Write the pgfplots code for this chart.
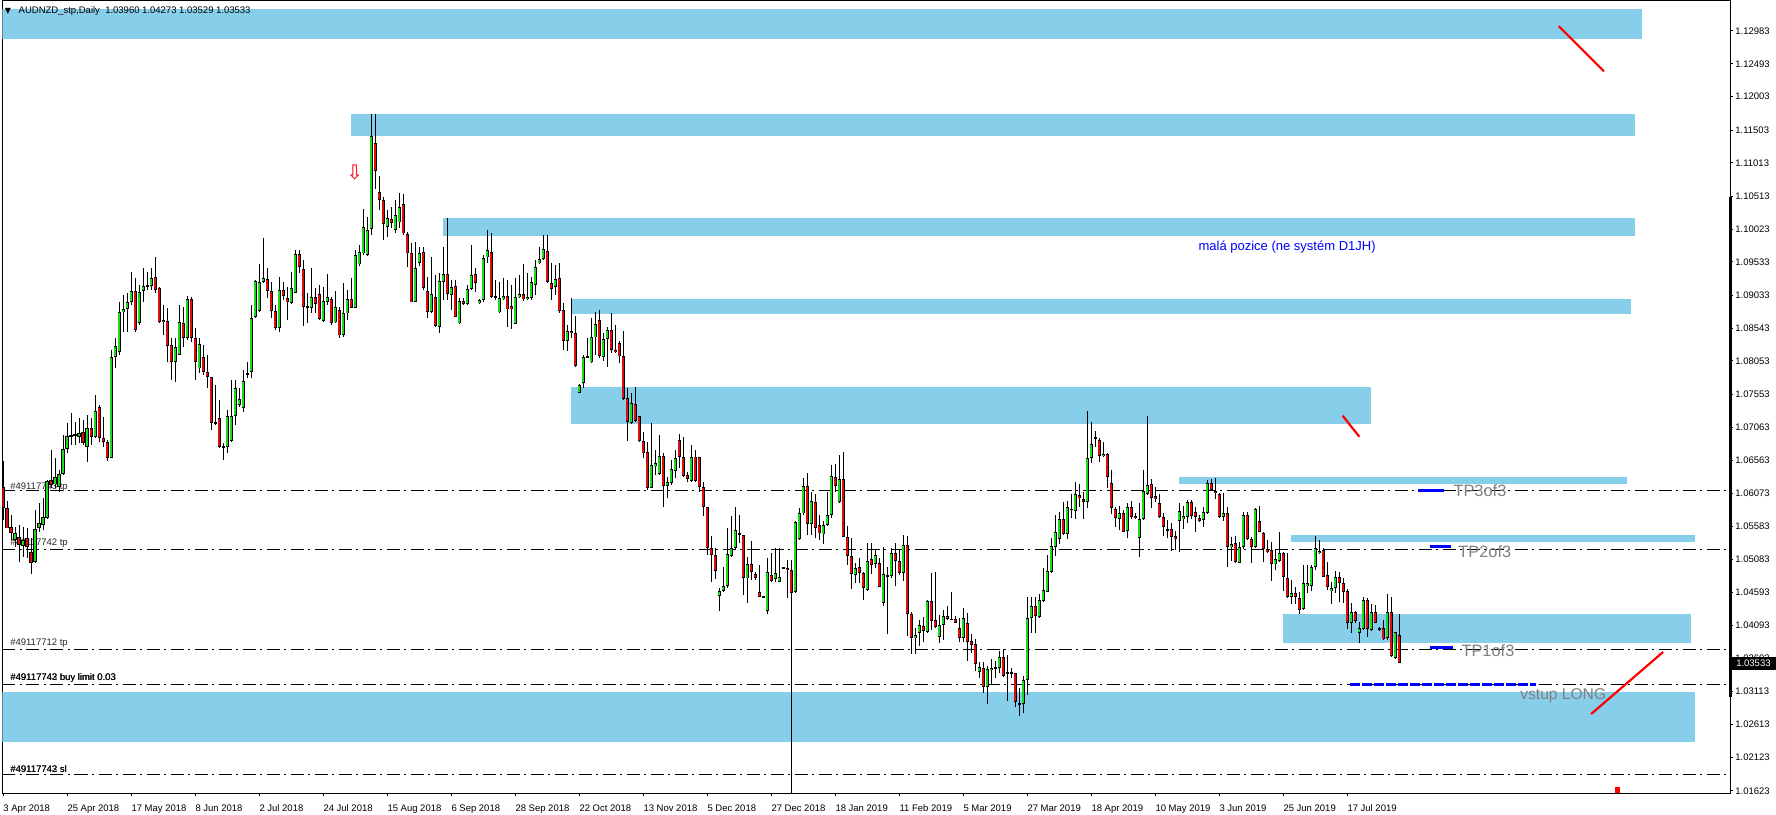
\documentclass[border=0pt]{standalone}
\usepackage{pgfplots}
\pgfplotsset{compat=1.18}
\usepackage{pgfplotstable}
\usepackage{fontspec}
\setmainfont{Liberation Sans}
\newfontfamily\dejavu{DejaVu Sans}
\definecolor{zone}{RGB}{135,206,235}
\definecolor{bull}{RGB}{30,215,30}
\definecolor{bear}{RGB}{215,15,15}
\definecolor{tpgray}{RGB}{128,128,128}
\definecolor{mtblue}{RGB}{0,0,255}
\newcommand\mt{\fontsize{4.75}{5.5}\selectfont}

\pgfplotstableread{
i o h l c
0 1.06161 1.06555 1.05673 1.05847
1 1.05847 1.05957 1.05548 1.05548
2 1.05568 1.05748 1.05374 1.05474
3 1.05374 1.05573 1.05274 1.05474
4 1.05424 1.05598 1.05050 1.05299
5 1.05289 1.05573 1.05125 1.05374
6 1.05399 1.05548 1.05100 1.05274
7 1.05200 1.05399 1.04861 1.05025
8 1.05040 1.05823 1.05025 1.05539
9 1.05548 1.05922 1.05499 1.05623
10 1.05598 1.05997 1.05524 1.05713
11 1.05698 1.06271 1.05688 1.06256
12 1.06271 1.06719 1.06146 1.06196
13 1.06206 1.06595 1.06146 1.06321
14 1.06171 1.06420 1.06097 1.06356
15 1.06356 1.06944 1.06346 1.06729
16 1.06729 1.07118 1.06670 1.06929
17 1.06929 1.07268 1.06794 1.06934
18 1.06929 1.07143 1.06794 1.06954
19 1.06919 1.07193 1.06819 1.06979
20 1.06994 1.07168 1.06794 1.06819
21 1.06769 1.07243 1.06545 1.07043
22 1.07043 1.07193 1.06794 1.06919
23 1.06919 1.07542 1.06894 1.07302
24 1.07357 1.07392 1.06844 1.06894
25 1.06894 1.07218 1.06769 1.06844
26 1.06844 1.06869 1.06555 1.06605
27 1.06605 1.08214 1.06595 1.08115
28 1.08115 1.08389 1.07940 1.08279
29 1.08179 1.08927 1.08140 1.08787
30 1.08787 1.09037 1.08488 1.08822
31 1.08822 1.09061 1.08488 1.08927
32 1.08937 1.09385 1.08887 1.09096
33 1.09096 1.09286 1.08488 1.08513
34 1.08613 1.09186 1.08588 1.09086
35 1.09096 1.09445 1.08937 1.09176
36 1.09176 1.09385 1.09111 1.09181
37 1.09176 1.09435 1.09111 1.09286
38 1.09301 1.09600 1.09061 1.09106
39 1.09136 1.09161 1.08613 1.08638
40 1.08663 1.08887 1.08439 1.08628
41 1.08653 1.08837 1.08040 1.08279
42 1.08289 1.08389 1.07766 1.08030
43 1.08030 1.08389 1.07741 1.08264
44 1.08140 1.08887 1.08140 1.08638
45 1.08613 1.08862 1.08264 1.08389
46 1.08389 1.09022 1.08364 1.08977
47 1.08977 1.09012 1.08339 1.08389
48 1.08389 1.08538 1.07766 1.08030
49 1.07940 1.08389 1.07866 1.08304
50 1.08105 1.08289 1.07841 1.07881
51 1.07890 1.08140 1.07641 1.07816
52 1.07816 1.07816 1.07018 1.07118
53 1.07128 1.07691 1.07093 1.07123
54 1.07203 1.07467 1.06754 1.06769
55 1.06779 1.06819 1.06570 1.06764
56 1.06759 1.07317 1.06670 1.07233
57 1.06854 1.07766 1.06844 1.07233
58 1.07228 1.07766 1.07093 1.07641
59 1.07392 1.07641 1.07367 1.07482
60 1.07342 1.07915 1.07293 1.07756
61 1.07841 1.08040 1.07791 1.07866
62 1.07881 1.08887 1.07791 1.08688
63 1.08703 1.09261 1.08688 1.09251
64 1.08797 1.09495 1.08777 1.09226
65 1.09236 1.09894 1.09211 1.09286
66 1.09276 1.09435 1.08987 1.09096
67 1.09096 1.09236 1.08698 1.08797
68 1.08797 1.08887 1.08513 1.08538
69 1.08538 1.09311 1.08478 1.09106
70 1.09111 1.09236 1.08962 1.09022
71 1.08986 1.09161 1.08662 1.08926
72 1.08911 1.09385 1.08901 1.09136
73 1.09071 1.09709 1.09061 1.09644
74 1.09644 1.09709 1.09370 1.09450
75 1.09420 1.09559 1.08573 1.08862
76 1.08872 1.09061 1.08612 1.08852
77 1.08837 1.09435 1.08762 1.09001
78 1.09001 1.09136 1.08762 1.08896
79 1.09051 1.09185 1.08662 1.08682
80 1.08647 1.09161 1.08637 1.08946
81 1.08926 1.09350 1.08886 1.09011
82 1.08971 1.09011 1.08587 1.08622
83 1.08627 1.09096 1.08612 1.08862
84 1.08812 1.08862 1.08388 1.08433
85 1.08433 1.09220 1.08413 1.08762
86 1.08762 1.09111 1.08662 1.08971
87 1.08971 1.09285 1.08837 1.08837
88 1.08837 1.09709 1.08837 1.09634
89 1.09494 1.09783 1.09469 1.09674
90 1.09659 1.10322 1.09634 1.10052
91 1.09634 1.10207 1.09624 1.10008
92 1.10018 1.11742 1.09933 1.11413
93 1.11303 1.11742 1.10616 1.10895
94 1.10571 1.10815 1.10307 1.10456
95 1.10456 1.10506 1.09858 1.10097
96 1.10047 1.10307 1.09898 1.10182
97 1.10172 1.10356 1.10033 1.10107
98 1.10008 1.10456 1.09958 1.10227
99 1.10122 1.10556 1.10033 1.10346
100 1.10391 1.10546 1.09933 1.09958
101 1.09948 1.09983 1.09459 1.09659
102 1.09659 1.09808 1.08926 1.08926
103 1.08926 1.09833 1.08926 1.09435
104 1.09519 1.09758 1.09469 1.09659
105 1.09674 1.09758 1.09111 1.09136
106 1.09096 1.09310 1.08697 1.08787
107 1.08777 1.09599 1.08762 1.09046
108 1.09011 1.09335 1.08553 1.08578
109 1.08563 1.09360 1.08463 1.09245
110 1.09235 1.09758 1.08961 1.09350
111 1.09350 1.10182 1.08961 1.09051
112 1.09036 1.09260 1.08812 1.09161
113 1.09170 1.09260 1.08702 1.08712
114 1.08612 1.08986 1.08602 1.08946
115 1.08951 1.08986 1.08886 1.08901
116 1.08901 1.09185 1.08881 1.09121
117 1.09121 1.09783 1.09111 1.09335
118 1.09350 1.09435 1.09086 1.09220
119 1.08911 1.08971 1.08901 1.08961
120 1.08961 1.09634 1.08936 1.09584
121 1.09599 1.10008 1.09509 1.09709
122 1.09674 1.09958 1.08986 1.09011
123 1.09011 1.09260 1.08961 1.09006
124 1.08777 1.09235 1.08762 1.08996
125 1.08976 1.09285 1.08961 1.09021
126 1.09021 1.09260 1.08563 1.08822
127 1.08872 1.09185 1.08523 1.08822
128 1.08602 1.09285 1.08602 1.09001
129 1.09001 1.09335 1.08986 1.09046
130 1.09046 1.09499 1.08946 1.08971
131 1.08971 1.09360 1.08961 1.09001
132 1.08986 1.09310 1.08961 1.09225
133 1.09185 1.09559 1.09036 1.09459
134 1.09509 1.09758 1.09499 1.09569
135 1.09569 1.09933 1.09559 1.09719
136 1.09694 1.09933 1.09220 1.09225
137 1.09220 1.09509 1.08961 1.09121
138 1.09151 1.09484 1.09036 1.09270
139 1.09285 1.09509 1.08762 1.08802
140 1.08812 1.08911 1.08214 1.08353
141 1.08353 1.08588 1.08199 1.08498
142 1.08498 1.08986 1.08398 1.08463
143 1.08463 1.08727 1.07965 1.07980
144 1.07576 1.07701 1.07566 1.07691
145 1.07725 1.08139 1.07641 1.08104
146 1.08099 1.08398 1.08089 1.08124
147 1.08029 1.08697 1.08024 1.08403
148 1.08403 1.08787 1.08139 1.08597
149 1.08662 1.08812 1.08089 1.08129
150 1.08114 1.08463 1.08054 1.08373
151 1.08373 1.08563 1.07965 1.08513
152 1.08513 1.08762 1.08164 1.08214
153 1.08214 1.08588 1.08164 1.08179
154 1.08313 1.08348 1.08014 1.08119
155 1.08124 1.08498 1.07466 1.07481
156 1.07491 1.07641 1.06858 1.07142
157 1.07128 1.07566 1.07108 1.07417
158 1.07402 1.07656 1.07142 1.07152
159 1.07227 1.07227 1.06843 1.06853
160 1.06853 1.06993 1.06594 1.06669
161 1.06684 1.06843 1.06121 1.06146
162 1.06146 1.07118 1.06146 1.06495
163 1.06485 1.06719 1.06345 1.06520
164 1.06355 1.06943 1.06345 1.06634
165 1.06624 1.06669 1.05872 1.06186
166 1.06186 1.06320 1.05996 1.06236
167 1.06221 1.06569 1.06196 1.06435
168 1.06410 1.06719 1.06295 1.06594
169 1.06868 1.06953 1.06445 1.06619
170 1.06609 1.06908 1.06320 1.06335
171 1.06340 1.06395 1.06246 1.06280
172 1.06265 1.06794 1.06246 1.06619
173 1.06624 1.06719 1.06246 1.06260
174 1.06609 1.06619 1.06096 1.06161
175 1.06171 1.06246 1.05737 1.05872
176 1.05862 1.05872 1.05149 1.05259
177 1.05259 1.05433 1.04741 1.05149
178 1.05144 1.05249 1.04800 1.04915
179 1.04541 1.04661 1.04312 1.04611
180 1.04611 1.04975 1.04601 1.04686
181 1.04686 1.05548 1.04651 1.05159
182 1.05134 1.05737 1.05124 1.05249
183 1.05249 1.05867 1.05239 1.05518
184 1.05478 1.05747 1.05324 1.05458
185 1.05448 1.05448 1.04551 1.04800
186 1.04800 1.05124 1.04427 1.05010
187 1.05010 1.05359 1.04776 1.04900
188 1.04860 1.04900 1.04776 1.04800
189 1.04591 1.05000 1.04521 1.04526
190 1.04526 1.04536 1.04521 1.04526
191 1.04312 1.05099 1.04262 1.04890
192 1.04850 1.05174 1.04751 1.04766
193 1.04790 1.05249 1.04751 1.04875
194 1.04751 1.05249 1.04741 1.04825
195 1.04960 1.04975 1.04940 1.04960
196 1.04960 1.05075 1.04501 1.04930
197 1.04920 1.05075 1.01000 1.04586
198 1.04601 1.05658 1.04576 1.05648
199 1.05383 1.05847 1.05373 1.05772
200 1.05772 1.06305 1.05747 1.06181
201 1.06181 1.06370 1.05448 1.05608
202 1.05608 1.06096 1.05448 1.05957
203 1.05942 1.06061 1.05398 1.05558
204 1.05598 1.05747 1.05373 1.05473
205 1.05458 1.05658 1.05309 1.05598
206 1.05598 1.06096 1.05588 1.05747
207 1.05747 1.06495 1.05697 1.06330
208 1.06320 1.06505 1.06096 1.06186
209 1.05947 1.06644 1.05922 1.06285
210 1.06285 1.06694 1.05423 1.05423
211 1.05424 1.05584 1.05001 1.05140
212 1.05140 1.05399 1.04642 1.04861
213 1.04851 1.05026 1.04737 1.04951
214 1.04976 1.05100 1.04727 1.04876
215 1.04876 1.04901 1.04477 1.04662
216 1.04627 1.05325 1.04612 1.05060
217 1.05085 1.05325 1.04861 1.05001
218 1.05011 1.05240 1.04951 1.05150
219 1.05026 1.05100 1.04667 1.04677
220 1.04438 1.05275 1.04393 1.04861
221 1.04841 1.04976 1.03964 1.04846
222 1.04841 1.05260 1.04801 1.05175
223 1.05175 1.05325 1.04692 1.05060
224 1.05060 1.05225 1.04851 1.04876
225 1.04876 1.05449 1.04761 1.05300
226 1.05300 1.05439 1.03944 1.04268
227 1.04268 1.04303 1.03665 1.03904
228 1.03904 1.04054 1.03665 1.03954
229 1.03989 1.04178 1.03795 1.04104
230 1.04089 1.04228 1.03855 1.04014
231 1.04004 1.04477 1.03979 1.04463
232 1.04463 1.04886 1.04029 1.04164
233 1.04178 1.04901 1.04064 1.04079
234 1.03929 1.04253 1.03830 1.04104
235 1.04104 1.04328 1.03879 1.04243
236 1.04243 1.04393 1.04178 1.04193
237 1.04188 1.04602 1.04178 1.04188
238 1.04193 1.04238 1.04129 1.04139
239 1.04064 1.04203 1.03855 1.03904
240 1.03904 1.04353 1.03855 1.04203
241 1.04129 1.04278 1.03566 1.03855
242 1.03865 1.03964 1.03680 1.03805
243 1.03815 1.03894 1.03416 1.03516
244 1.03406 1.03546 1.03306 1.03476
245 1.03466 1.03556 1.03092 1.03182
246 1.03182 1.03496 1.02923 1.03446
247 1.03436 1.03595 1.03207 1.03466
248 1.03456 1.03566 1.03306 1.03481
249 1.03456 1.03715 1.03381 1.03625
250 1.03625 1.03745 1.03331 1.03346
251 1.03386 1.03655 1.02968 1.03386
252 1.03386 1.03456 1.03306 1.03386
253 1.03381 1.03381 1.02873 1.02958
254 1.02933 1.03157 1.02748 1.02908
255 1.02918 1.03341 1.02783 1.03282
256 1.03282 1.04527 1.03057 1.04203
257 1.04203 1.04527 1.03979 1.04393
258 1.04393 1.04527 1.03979 1.04243
259 1.04228 1.04562 1.04203 1.04477
260 1.04463 1.04951 1.04453 1.04627
261 1.04602 1.05150 1.04592 1.04911
262 1.04901 1.05399 1.04876 1.05285
263 1.05275 1.05748 1.05140 1.05499
264 1.05389 1.05798 1.05310 1.05688
265 1.05688 1.05947 1.05449 1.05459
266 1.05459 1.05957 1.05389 1.05868
267 1.05833 1.06057 1.05708 1.05833
268 1.05813 1.06236 1.05688 1.06062
269 1.06047 1.06212 1.05873 1.05997
270 1.05987 1.06097 1.05688 1.05947
271 1.05947 1.07303 1.05848 1.06595
272 1.06595 1.07133 1.06530 1.06805
273 1.06894 1.07004 1.06770 1.06919
274 1.06869 1.06894 1.06545 1.06630
275 1.06625 1.06844 1.06620 1.06655
276 1.06655 1.06670 1.06157 1.06311
277 1.06222 1.06421 1.05758 1.05848
278 1.05838 1.05873 1.05574 1.05698
279 1.05683 1.05888 1.05524 1.05773
280 1.05773 1.05823 1.05489 1.05499
281 1.05509 1.05922 1.05399 1.05862
282 1.05862 1.05957 1.05688 1.05723
283 1.05733 1.05783 1.05688 1.05698
284 1.05399 1.05922 1.05115 1.05683
285 1.05683 1.06421 1.05673 1.06107
286 1.06057 1.07228 1.06047 1.06196
287 1.06206 1.06286 1.05848 1.06007
288 1.06032 1.06161 1.05947 1.05982
289 1.05922 1.06057 1.05698 1.05713
290 1.05713 1.05773 1.05439 1.05573
291 1.05539 1.05673 1.05399 1.05524
292 1.05534 1.05623 1.05215 1.05414
293 1.05434 1.05514 1.05225 1.05384
294 1.05663 1.05932 1.05190 1.05808
295 1.05683 1.05882 1.05534 1.05733
296 1.05723 1.05972 1.05633 1.05937
297 1.05937 1.05972 1.05683 1.05738
298 1.05793 1.05862 1.05499 1.05713
299 1.05703 1.05748 1.05638 1.05663
300 1.05673 1.05862 1.05563 1.05788
301 1.05773 1.06271 1.05758 1.06221
302 1.06221 1.06286 1.06112 1.06122
303 1.06107 1.06296 1.05982 1.06072
304 1.06057 1.06072 1.05698 1.05723
305 1.05713 1.06072 1.05663 1.05773
306 1.05773 1.05872 1.04975 1.05265
307 1.05265 1.05424 1.05065 1.05314
308 1.05324 1.05434 1.05025 1.05050
309 1.05035 1.05349 1.05025 1.05274
310 1.05274 1.05788 1.05240 1.05743
311 1.05748 1.05793 1.05374 1.05384
312 1.05384 1.05424 1.05035 1.05265
313 1.05265 1.05848 1.05250 1.05833
314 1.05653 1.05882 1.05499 1.05499
315 1.05474 1.05499 1.05040 1.05240
316 1.05240 1.05374 1.05175 1.05190
317 1.05220 1.05349 1.04766 1.05010
318 1.05010 1.05235 1.04926 1.05085
319 1.05055 1.05489 1.05040 1.05175
320 1.05175 1.05200 1.04612 1.04816
321 1.04801 1.05185 1.04502 1.04517
322 1.04517 1.04776 1.04412 1.04577
323 1.04577 1.04667 1.04417 1.04517
324 1.04502 1.04602 1.04268 1.04328
325 1.04338 1.05000 1.04328 1.04726
326 1.04691 1.05000 1.04577 1.04726
327 1.04686 1.05000 1.04617 1.04966
328 1.04966 1.05434 1.04926 1.05250
329 1.05175 1.05374 1.05165 1.05215
330 1.05225 1.05250 1.04816 1.04826
331 1.04851 1.05050 1.04627 1.04667
332 1.04617 1.04751 1.04417 1.04652
333 1.04652 1.04916 1.04587 1.04816
334 1.04816 1.04901 1.04452 1.04726
335 1.04736 1.04801 1.04427 1.04602
336 1.04612 1.04637 1.04039 1.04128
337 1.04128 1.04427 1.03989 1.04293
338 1.04293 1.04318 1.04128 1.04168
339 1.03989 1.04153 1.03839 1.04054
340 1.04039 1.04517 1.04029 1.04477
341 1.04477 1.04502 1.03929 1.04039
342 1.04029 1.04417 1.04019 1.04293
343 1.04293 1.04402 1.04128 1.04138
344 1.04054 1.04079 1.04019 1.04029
345 1.04054 1.04178 1.03879 1.03889
346 1.03904 1.04567 1.03879 1.04293
347 1.04293 1.04527 1.03620 1.03640
348 1.03605 1.04004 1.03590 1.03994
349 1.03960 1.04273 1.03529 1.03533
}\candles

\pgfplotsset{
  candle/.style={draw=none, mark=none, forget plot,
    error bars/y dir=both, error bars/y explicit, error bars/error mark=none},
  mtline/.style={black, line width=0.5pt, dash pattern=on 6.5pt off 2.25pt on 1pt off 2.25pt, forget plot},
  zonefill/.style={fill=zone, draw=none, forget plot},
}

\begin{document}
\begin{tikzpicture}
\useasboundingbox (0,0) rectangle (888pt,407pt);
\begin{axis}[
  at={(1.25pt,10.5pt)}, anchor=south west,
  scale only axis, width=863.75pt, height=396.25pt,
  xmin=-0.15, xmax=431.725, ymin=1.01592, ymax=1.13439,
  axis line style={line width=0.5pt},
  tick align=outside, major tick length=1.5pt,
  tick style={black, line width=0.5pt},
  xtick pos=bottom, ytick pos=right, yticklabel pos=right,
  xtick={0,16,32,48,64,80,96,112,128,144,160,176,192,208,224,240,256,272,288,304,320,336},
  xticklabels={3 Apr 2018,25 Apr 2018,17 May 2018,8 Jun 2018,2 Jul 2018,24 Jul 2018,15 Aug 2018,6 Sep 2018,28 Sep 2018,22 Oct 2018,13 Nov 2018,5 Dec 2018,27 Dec 2018,18 Jan 2019,11 Feb 2019,5 Mar 2019,27 Mar 2019,18 Apr 2019,10 May 2019,3 Jun 2019,25 Jun 2019,17 Jul 2019},
  xticklabel style={font=\mt, anchor=north west, inner sep=0pt, yshift=-4pt},
  ytick={1.01623,1.02123,1.02613,1.03113,1.03603,1.04093,1.04593,1.05083,1.05583,1.06073,1.06563,1.07063,1.07553,1.08053,1.08543,1.09033,1.09533,1.10023,1.10513,1.11013,1.11503,1.12003,1.12493,1.12983},
  yticklabels={1.01623,1.02123,1.02613,1.03113,1.03603,1.04093,1.04593,1.05083,1.05583,1.06073,1.06563,1.07063,1.07553,1.08053,1.08543,1.09033,1.09533,1.10023,1.10513,1.11013,1.11503,1.12003,1.12493,1.12983},
  yticklabel style={font=\mt, anchor=west, inner sep=0pt, xshift=1pt},
]
% zones
\addplot[zonefill] coordinates {(-1,1.12863) (409.8,1.12863) (409.8,1.13311) (-1,1.13311)} --cycle;
\addplot[zonefill] coordinates {(87,1.11418) (407.9,1.11418) (407.9,1.11742) (87,1.11742)} --cycle;
\addplot[zonefill] coordinates {(110,1.09923) (407.9,1.09923) (407.9,1.10192) (110,1.10192)} --cycle;
\addplot[zonefill] coordinates {(142,1.08752) (407,1.08752) (407,1.08977) (142,1.08977)} --cycle;
\addplot[zonefill] coordinates {(142,1.07113) (341.9,1.07113) (341.9,1.07661) (142,1.07661)} --cycle;
\addplot[zonefill] coordinates {(294,1.06216) (405.9,1.06216) (405.9,1.06316) (294,1.06316)} --cycle;
\addplot[zonefill] coordinates {(322,1.05349) (422.9,1.05349) (422.9,1.05449) (322,1.05449)} --cycle;
\addplot[zonefill] coordinates {(320,1.03839) (422,1.03839) (422,1.04268) (320,1.04268)} --cycle;
\addplot[zonefill] coordinates {(-1,1.02359) (422.9,1.02359) (422.9,1.03107) (-1,1.03107)} --cycle;

% order lines
\addplot[mtline] coordinates {(-0.15,1.06107) (430.9,1.06107)};
\addplot[mtline] coordinates {(-0.15,1.05236) (430.9,1.05236)};
\addplot[mtline] coordinates {(-0.15,1.03741) (430.9,1.03741)};
\addplot[mtline] coordinates {(-0.15,1.03218) (430.9,1.03218)};
\addplot[mtline] coordinates {(-0.15,1.01862) (430.9,1.01862)};

% order labels
\node[anchor=west, inner sep=0pt, font=\mt, text=black!85] at (axis cs:1.7,1.06171) {\#49117743 tp};
\node[anchor=west, inner sep=0pt, font=\mt, text=black!85] at (axis cs:1.7,1.05329) {\#49117742 tp};
\node[anchor=west, inner sep=0pt, font=\mt, text=black!85] at (axis cs:1.7,1.03834) {\#49117712 tp};
\node[anchor=west, inner sep=0pt, font=\mt] at (axis cs:1.7,1.03311) {\#49117743 buy limit 0.03};
\node[anchor=west, inner sep=0pt, font=\mt] at (axis cs:1.78,1.03311) {\#49117742 buy limit 0.03};
\node[anchor=west, inner sep=0pt, font=\mt] at (axis cs:1.7,1.01951) {\#49117743 sl};
\node[anchor=west, inner sep=0pt, font=\mt] at (axis cs:1.78,1.01951) {\#49117742 sl};

% candles: wicks
\addplot[candle, error bars/error bar style={draw=black, line width=0.5pt, line cap=butt}]
  table[x=i, y expr={(\thisrow{h}+\thisrow{l})/2}, y error expr={(\thisrow{h}-\thisrow{l})/2}] {\candles};
% bodies outline
\addplot[candle, error bars/error bar style={draw=black, line width=1.6pt, line cap=butt}]
  table[x=i, y expr={(\thisrow{o}+\thisrow{c})/2}, y error expr={max(abs(\thisrow{o}-\thisrow{c})/2,0.00008)}] {\candles};
% bull fill
\addplot[candle, error bars/error bar style={draw=bull, line width=0.7pt, line cap=butt}]
  table[x=i, y expr={(\thisrow{o}+\thisrow{c})/2}, y error expr={(\thisrow{c}>\thisrow{o})*max(abs(\thisrow{o}-\thisrow{c})/2-0.00014,0)}] {\candles};
% bear fill
\addplot[candle, error bars/error bar style={draw=bear, line width=0.7pt, line cap=butt}]
  table[x=i, y expr={(\thisrow{o}+\thisrow{c})/2}, y error expr={(\thisrow{o}>\thisrow{c})*max(abs(\thisrow{o}-\thisrow{c})/2-0.00014,0)}] {\candles};

% blue TP markers
\addplot[mtblue, line width=1.5pt, forget plot] coordinates {(353.7,1.06107) (360.2,1.06107)};
\addplot[mtblue, line width=1.5pt, forget plot] coordinates {(356.6,1.05273) (362,1.05273)};
\addplot[mtblue, line width=1.5pt, forget plot] coordinates {(356.6,1.03766) (362.5,1.03766)};
\addplot[mtblue, line width=1.5pt, dash pattern=on 5pt off 1pt, forget plot] coordinates {(336.7,1.03207) (383.2,1.03207)};

% red trend lines
\addplot[red, line width=1.1pt, forget plot] coordinates {(388.9,1.13057) (400.2,1.12380)};
\addplot[red, line width=1.1pt, forget plot] coordinates {(334.9,1.07232) (339.05,1.06918)};
\addplot[red, line width=1.1pt, forget plot] coordinates {(397,1.02773) (415,1.03700)};
\addplot[only marks, mark=square*, mark size=1.1pt, red, forget plot] coordinates {(403.5,1.01640)};

% texts
\node[anchor=west, inner sep=0pt, font=\fontsize{8.2}{9}\selectfont, text=tpgray] at (axis cs:362.5,1.06107) {TP3of3};
\node[anchor=west, inner sep=0pt, font=\fontsize{8.2}{9}\selectfont, text=tpgray] at (axis cs:363.7,1.05205) {TP2of3};
\node[anchor=west, inner sep=0pt, font=\fontsize{8.2}{9}\selectfont, text=tpgray] at (axis cs:364.5,1.03715) {TP1of3};
\node[anchor=west, inner sep=0pt, font=\fontsize{7.8}{9}\selectfont, text=tpgray] at (axis cs:379.2,1.03042) {vstup LONG};
\node[inner sep=0pt, font=\fontsize{6.5}{7}\selectfont, text=mtblue] at (axis cs:321,1.09757) {malá pozice (ne systém D1JH)};
\node[inner sep=0pt, font=\dejavu\fontsize{10}{10}\selectfont, text=red] at (axis cs:87.9,1.10868) {⇩};
\node[inner sep=0pt, font=\dejavu\fontsize{4}{4}\selectfont] at (axis cs:1.22,1.13282) {▼};
\node[anchor=west, inner sep=0pt, font=\mt] at (axis cs:3.8,1.13282) {AUDNZD\_stp,Daily\ \ 1.03960 1.04273 1.03529 1.03533};

\coordinate (pricept) at (axis cs:431.725,1.03533);
\coordinate (barA) at (axis cs:431.725,1.10501);
\coordinate (barB) at (axis cs:431.725,1.03027);
\end{axis}
\draw[line width=1.5pt] (barA) -- (barB);
\node[anchor=west, fill=black, text=white, font=\mt, minimum width=22.5pt, minimum height=6.5pt, inner sep=0pt] at ([xshift=0.25pt]pricept) {1.03533};
\end{tikzpicture}
\end{document}
